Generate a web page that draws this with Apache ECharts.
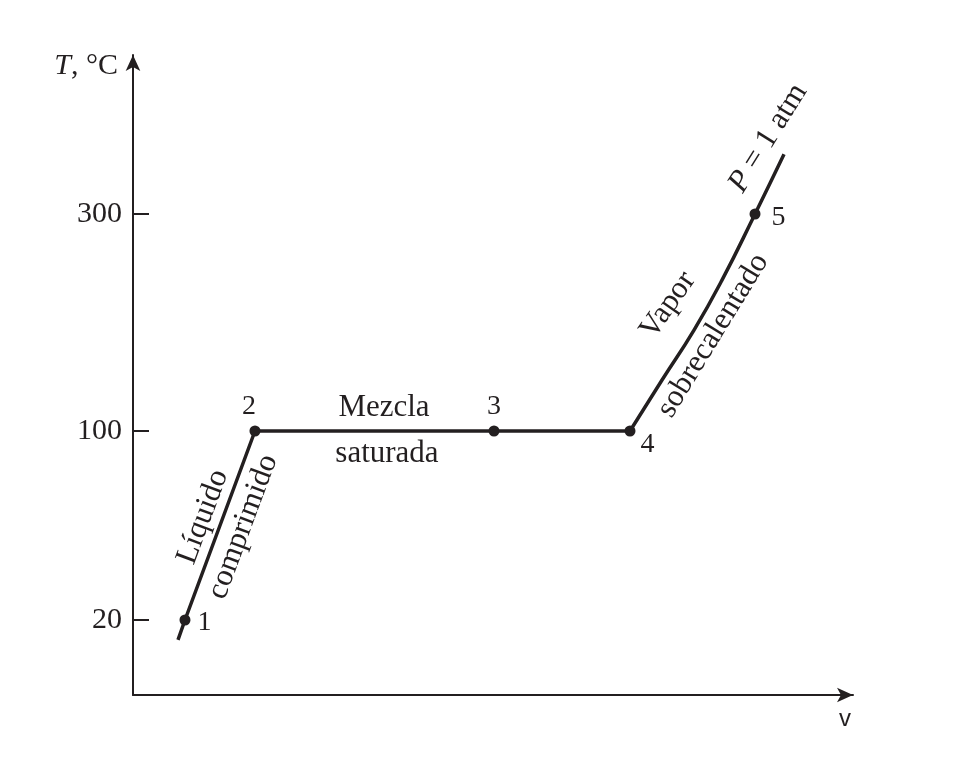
<!DOCTYPE html>
<html>
<head>
<meta charset="utf-8">
<script src="https://cdn.jsdelivr.net/npm/echarts@6/dist/echarts.min.js"></script>
<style>html,body{margin:0;padding:0;background:#fff}#c{width:961px;height:770px}</style>
</head>
<body>
<div id="c"></div>
<script>
// ---- data (v: schematic specific volume, T in °C) ----
var yTicks = [20, 100, 300];
var pointNames = ['1', '2', '3', '4', '5'];
var pointV = [7.30, 17.13, 50.70, 69.80, 87.36];
var pointT = [20, 100, 100, 100, 300];
// straight part of the isobar (compressed liquid + saturated mixture)
var lineV = [6.32, 7.30, 17.13, 50.70, 69.80];
var lineT = [14.7, 20, 100, 100, 100];
// superheated vapor part of the isobar
var curveV = [69.80, 74.30, 78.79, 82.72, 87.36, 91.43];
var curveT = [100, 147, 193, 239, 300, 355];
// region annotations
var noteText = ['Líquido', 'comprimido', 'Mezcla', 'saturada', 'Vapor', 'sobrecalentado', '{i|P} = 1 atm'];
var noteV = [9.83, 15.45, 35.25, 35.67, 75.14, 81.46, 89.19];
var noteT = [63.6, 59.4, 121.2, 90.3, 216, 188, 370];
var noteRot = [69.6, 69.6, 0, 0, 55, 58.5, 58];

// schematic (non-linear) temperature scale breakpoints
var scaleT = [0, 20, 100, 300];
var scaleU = [0, 75, 264, 481];
function toU(t) {
  var n = scaleT.length;
  for (var i = 1; i < n; i++) {
    if (t <= scaleT[i] || i === n - 1) {
      var k = (scaleU[i] - scaleU[i - 1]) / (scaleT[i] - scaleT[i - 1]);
      return scaleU[i - 1] + (t - scaleT[i - 1]) * k;
    }
  }
}
function fromU(u) {
  var n = scaleU.length;
  for (var i = 1; i < n; i++) {
    if (u <= scaleU[i] + 1e-6 || i === n - 1) {
      var k = (scaleT[i] - scaleT[i - 1]) / (scaleU[i] - scaleU[i - 1]);
      return scaleT[i - 1] + (u - scaleU[i - 1]) * k;
    }
  }
}
function zip(a, b) { return a.map(function (x, i) { return [x, toU(b[i])]; }); }

var INK = '#231f20';
var SERIF = '"Liberation Serif", "DejaVu Serif", serif';

var chart = echarts.init(document.getElementById('c'), null, { renderer: 'canvas' });

var pointLabel = [
  { position: 'right', distance: 7, offset: [0, 3] },
  { position: 'top', distance: 5, offset: [-6, 0] },
  { position: 'top', distance: 5, offset: [0, 0] },
  { position: 'right', distance: 5, offset: [0, 14] },
  { position: 'right', distance: 11, offset: [0, 4] }
];

var option = {
  animation: false,
  backgroundColor: '#ffffff',
  grid: { left: 133, right: 108, top: 55, bottom: 75, containLabel: false },
  xAxis: {
    type: 'value', min: 0, max: 101.12,
    name: 'v', nameLocation: 'end', nameGap: -8,
    nameTextStyle: { fontFamily: '"Liberation Sans", "DejaVu Sans", sans-serif', fontSize: 24, color: INK,
      align: 'center', verticalAlign: 'top', padding: [12, 0, 0, 0] },
    axisLine: { show: true, onZero: false, symbol: ['none', 'arrow'], symbolSize: [11, 16],
      lineStyle: { color: INK, width: 2 } },
    axisTick: { show: false }, axisLabel: { show: false }, splitLine: { show: false }
  },
  yAxis: {
    type: 'value', min: 0, max: 640,
    name: '{i|T}, °C', nameLocation: 'end', nameGap: -11,
    nameTextStyle: { fontFamily: SERIF, fontSize: 30, color: INK, align: 'right', verticalAlign: 'middle',
      padding: [0, 15, 0, 0],
      rich: { i: { fontFamily: SERIF, fontSize: 30, fontStyle: 'italic', color: INK } } },
    axisLine: { show: true, onZero: false, symbol: ['none', 'arrow'], symbolSize: [11, 16],
      lineStyle: { color: INK, width: 2 } },
    axisTick: { show: true, inside: true, length: 16, customValues: yTicks.map(toU),
      lineStyle: { color: INK, width: 2 } },
    axisLabel: { show: true, margin: 11, customValues: yTicks.map(toU), fontFamily: SERIF, fontSize: 30, color: INK,
      formatter: function (v) { return String(Math.round(fromU(v))); } },
    splitLine: { show: false }
  },
  series: [
    { type: 'line', data: zip(lineV, lineT), symbol: 'none', smooth: false,
      lineStyle: { color: INK, width: 3.5 }, z: 3 },
    { type: 'line', data: zip(curveV, curveT), symbol: 'none', smooth: 0.5,
      lineStyle: { color: INK, width: 3.5 }, z: 3 },
    { type: 'scatter', symbol: 'circle', symbolSize: 11, itemStyle: { color: INK, opacity: 1 }, z: 5,
      data: pointNames.map(function (n, i) {
        return { name: n, value: [pointV[i], toU(pointT[i])],
          label: Object.assign({ show: true, formatter: n, fontFamily: SERIF, fontSize: 28, color: INK, opacity: 1 }, pointLabel[i]) };
      }) },
    { type: 'scatter', symbolSize: 0, silent: true, z: 6, itemStyle: { opacity: 1 },
      data: noteText.map(function (t, i) {
        return { name: t, value: [noteV[i], toU(noteT[i])],
          label: { show: true, position: 'inside', formatter: t, rotate: noteRot[i], opacity: 1,
            fontFamily: SERIF, fontSize: 31, color: INK, align: 'center', verticalAlign: 'middle',
            rich: { i: { fontFamily: SERIF, fontSize: 31, fontStyle: 'italic', color: INK } } } };
      }) }
  ]
};
chart.setOption(option);
</script>
</body>
</html>
